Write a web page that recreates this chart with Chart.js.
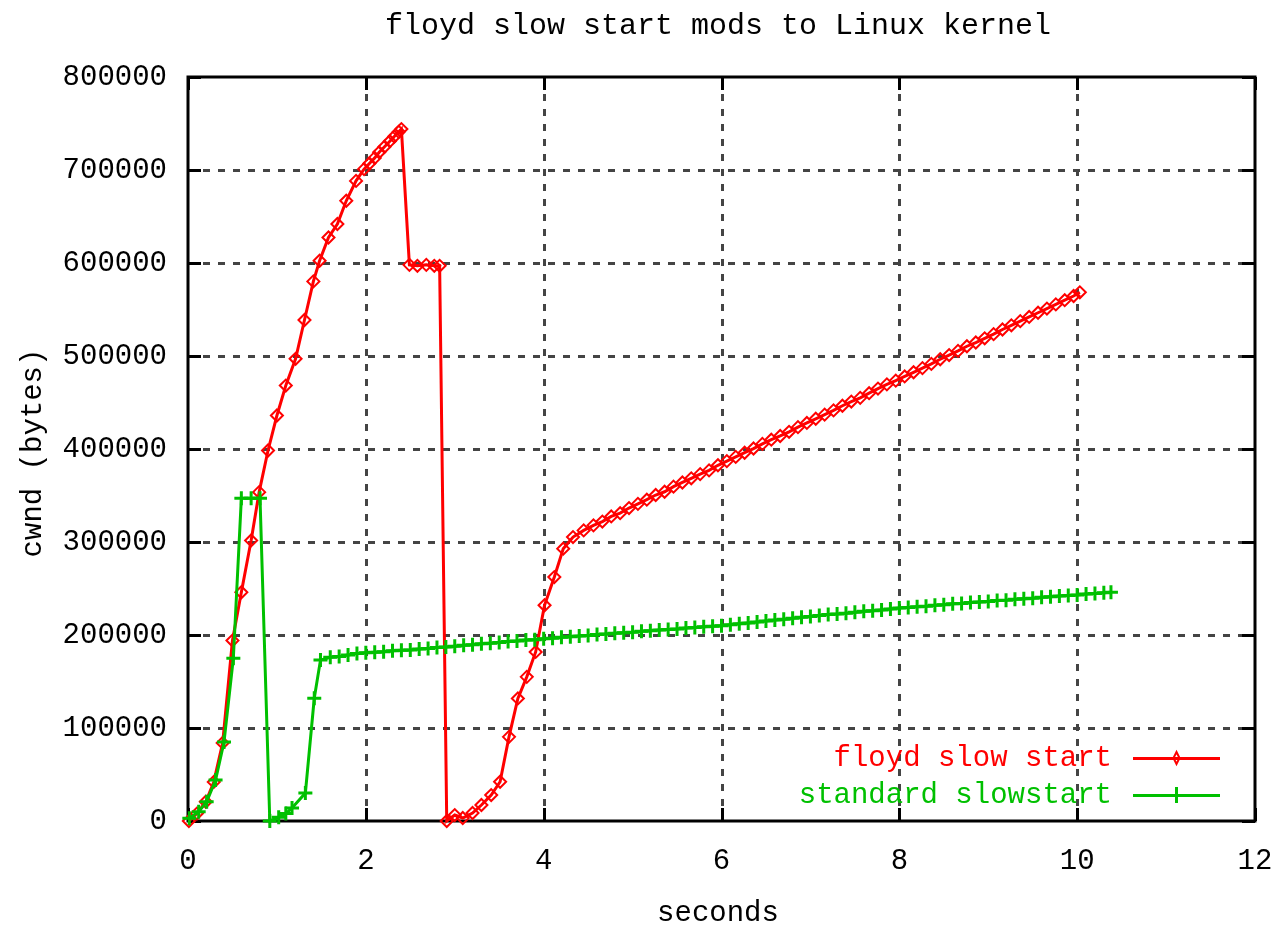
<!DOCTYPE html>
<html>
<head>
<meta charset="utf-8">
<title>floyd slow start mods to Linux kernel</title>
<script src="https://cdn.jsdelivr.net/npm/chart.js@4/dist/chart.umd.min.js"></script>
<style>
  html, body { margin: 0; padding: 0; background: #ffffff; }
  #wrap { width: 1273px; height: 929px; }
</style>
</head>
<body>
<div id="wrap"><canvas id="cwnd" width="1273" height="929"></canvas></div>
<script>
// congestion window traces (time in seconds, cwnd in bytes)
const floydSeconds = [
  0.01, 0.10, 0.20, 0.29, 0.39, 0.50, 0.60, 0.71, 0.80, 0.90,
  1.00, 1.10, 1.21, 1.31, 1.41, 1.48, 1.58, 1.68, 1.78, 1.89,
  1.98, 2.04, 2.10, 2.15, 2.21, 2.27, 2.32, 2.37, 2.40,
  2.49, 2.58, 2.68, 2.77, 2.83, 2.91,
  3.00, 3.09, 3.20, 3.30, 3.41, 3.51, 3.61, 3.71, 3.81, 3.91,
  4.01, 4.12, 4.22, 4.33, 4.45, 4.56,
  4.66, 4.76, 4.86, 4.96, 5.06, 5.16, 5.26, 5.36, 5.46, 5.56,
  5.66, 5.76, 5.86, 5.96, 6.06, 6.16, 6.26, 6.36, 6.46, 6.56,
  6.66, 6.76, 6.86, 6.96, 7.06, 7.16, 7.26, 7.36, 7.46, 7.56,
  7.66, 7.76, 7.86, 7.96, 8.06, 8.16, 8.26, 8.36, 8.46, 8.56,
  8.66, 8.76, 8.86, 8.96, 9.06, 9.16, 9.26, 9.36, 9.46, 9.56,
  9.66, 9.76, 9.86, 9.96, 10.03
];
const floydCwnd = [
  0, 8000, 20700, 42000, 84000, 194000, 246000, 301700, 353600, 398400,
  436000, 468200, 497000, 538700, 580200, 602400, 627400, 641900, 666900, 688300,
  700900, 707000, 713000, 719000, 725000, 731000, 736000, 741000, 744000,
  598000, 597000, 598000, 597000, 597000, 0,
  6400, 3200, 8600, 17200, 27900, 42200, 90500, 131800, 155000, 181800,
  232000, 262300, 292800, 305300, 312500, 317900,
  322000, 327500, 331000, 336500, 341000, 345500, 350500, 354000, 359500, 364000,
  368500, 373000, 377000, 382500, 387000, 391500, 396000, 400500, 405500, 410000,
  414000, 418500, 423500, 428000, 432500, 437000, 441500, 446500, 451000, 455000,
  460000, 465000, 469500, 473500, 478000, 482500, 487000, 491500, 496500, 501000,
  505500, 510500, 514500, 519000, 523500, 528500, 533000, 537500, 542000, 546500,
  551000, 555500, 560000, 564500, 568500
];

const standardSeconds = [
  0.015, 0.12, 0.21, 0.31, 0.405, 0.51, 0.60, 0.71, 0.81, 0.92,
  1.02, 1.10, 1.17, 1.32, 1.42, 1.49,
  1.6, 1.7, 1.8, 1.9, 2.0, 2.1, 2.2, 2.3, 2.4, 2.5,
  2.6, 2.7, 2.8, 2.9, 3.0, 3.1, 3.2, 3.3, 3.4, 3.5,
  3.6, 3.7, 3.8, 3.9, 4.0, 4.1, 4.2, 4.3, 4.4, 4.5,
  4.6, 4.7, 4.8, 4.9, 5.0, 5.1, 5.2, 5.3, 5.4, 5.5,
  5.6, 5.7, 5.8, 5.9, 6.0, 6.1, 6.2, 6.3, 6.4, 6.5,
  6.6, 6.7, 6.8, 6.9, 7.0, 7.1, 7.2, 7.3, 7.4, 7.5,
  7.6, 7.7, 7.8, 7.9, 8.0, 8.1, 8.2, 8.3, 8.4, 8.5,
  8.6, 8.7, 8.8, 8.9, 9.0, 9.1, 9.2, 9.3, 9.4, 9.5,
  9.6, 9.7, 9.8, 9.9, 10.0, 10.1, 10.2, 10.3, 10.38
];
const standardCwnd = [
  2900, 10000, 20700, 44000, 85000, 175000, 347000, 347000, 347000, 0,
  4000, 8000, 14000, 30000, 132000, 173000,
  176000, 177000, 178500, 180000, 181000, 181500, 182000, 183000, 183500, 184000,
  185000, 185500, 186500, 187000, 188000, 189000, 189500, 190500, 191000, 192000,
  193000, 193500, 194500, 195000, 196000, 196500, 197500, 198000, 199000, 199500,
  200500, 201000, 202000, 202500, 203000, 204000, 204500, 205500, 206000, 206500,
  207500, 208000, 209000, 209500, 210000, 211000, 212000, 213000, 214000, 215000,
  216000, 217000, 218000, 219000, 220000, 221000, 222000, 222500, 223500, 224500,
  225500, 226000, 227000, 228000, 229000, 229500, 230500, 231000, 232000, 232500,
  233500, 234000, 235000, 235500, 236000, 237000, 237500, 238500, 239000, 239500,
  240500, 241000, 242000, 242500, 243000, 244000, 244500, 245500, 246000
];

const seriesLabels = ['floyd slow start', 'standard slowstart'];
const chartTitle = 'floyd slow start mods to Linux kernel';
const xAxisTitle = 'seconds';
const yAxisTitle = 'cwnd (bytes)';

const FONT = '"Liberation Mono", "DejaVu Sans Mono", monospace';
const FONT_SIZE = 29;
const RED = '#ff0000';
const GREEN = '#00c000';

const toPoints = (xs, ys) => xs.map((x, i) => ({ x: x, y: ys[i] }));

// frame, dashed grid and inward tick marks, drawn underneath the traces
const framePlugin = {
  id: 'frame',
  beforeDatasetsDraw(chart) {
    const { ctx, chartArea: a, scales: { x, y } } = chart;
    ctx.save();
    ctx.strokeStyle = '#444444';
    ctx.lineWidth = 3;
    ctx.setLineDash([7, 8]);
    x.ticks.forEach(t => {
      if (t.value <= x.min || t.value >= x.max) return;
      const px = Math.round(x.getPixelForValue(t.value)) + 0.5;
      ctx.beginPath(); ctx.moveTo(px, a.bottom); ctx.lineTo(px, a.top); ctx.stroke();
    });
    y.ticks.forEach(t => {
      if (t.value <= y.min || t.value >= y.max) return;
      const py = Math.round(y.getPixelForValue(t.value)) + 0.5;
      ctx.beginPath(); ctx.moveTo(a.left, py); ctx.lineTo(a.right, py); ctx.stroke();
    });
    ctx.setLineDash([]);
    ctx.strokeStyle = '#000000';
    ctx.lineWidth = 3;
    const tl = 13;
    x.ticks.forEach(t => {
      const px = Math.round(x.getPixelForValue(t.value)) + 0.5;
      ctx.beginPath();
      ctx.moveTo(px, a.bottom); ctx.lineTo(px, a.bottom - tl);
      ctx.moveTo(px, a.top); ctx.lineTo(px, a.top + tl);
      ctx.stroke();
    });
    y.ticks.forEach(t => {
      const py = Math.round(y.getPixelForValue(t.value)) + 0.5;
      ctx.beginPath();
      ctx.moveTo(a.left, py); ctx.lineTo(a.left + tl, py);
      ctx.moveTo(a.right, py); ctx.lineTo(a.right - tl, py);
      ctx.stroke();
    });
    ctx.strokeRect(a.left, a.top, a.right - a.left, a.bottom - a.top);
    ctx.restore();
  }
};

// title, axis titles and the in-plot key
const textPlugin = {
  id: 'texts',
  afterDraw(chart) {
    const { ctx } = chart;
    ctx.save();
    ctx.font = '30px ' + FONT;
    ctx.fillStyle = '#000000';
    ctx.textAlign = 'center';
    ctx.textBaseline = 'middle';
    ctx.fillText(chartTitle, 718, 26);
    ctx.font = FONT_SIZE + 'px ' + FONT;
    ctx.fillText(xAxisTitle, 718, 913);
    ctx.save();
    ctx.translate(33, 453);
    ctx.rotate(-Math.PI / 2);
    ctx.fillText(yAxisTitle, 0, 0);
    ctx.restore();

    const rows = [758, 795];
    chart.data.datasets.forEach((ds, i) => {
      const yy = rows[i];
      ctx.fillStyle = ds.borderColor;
      ctx.textAlign = 'right';
      ctx.fillText(ds.label, 1112, yy);
      ctx.strokeStyle = ds.borderColor;
      ctx.lineWidth = 3;
      ctx.beginPath(); ctx.moveTo(1133, yy + 0.5); ctx.lineTo(1220, yy + 0.5); ctx.stroke();
      const mx = 1176.5;
      if (ds.pointStyle === 'cross') {
        ctx.beginPath(); ctx.moveTo(mx, yy - 8); ctx.lineTo(mx, yy + 8); ctx.stroke();
      } else {
        ctx.lineWidth = 2;
        ctx.beginPath();
        ctx.moveTo(mx, yy - 6); ctx.lineTo(mx + 3, yy); ctx.lineTo(mx, yy + 6); ctx.lineTo(mx - 3, yy); ctx.closePath();
        ctx.stroke();
      }
    });
    ctx.restore();
  }
};

new Chart(document.getElementById('cwnd'), {
  type: 'scatter',
  data: {
    datasets: [
      {
        label: seriesLabels[0],
        data: toPoints(floydSeconds, floydCwnd),
        showLine: true,
        borderColor: RED,
        borderWidth: 3,
        pointStyle: 'rectRot',
        pointRadius: 6,
        pointBorderWidth: 2,
        pointBackgroundColor: 'rgba(0,0,0,0)',
        pointBorderColor: RED,
        tension: 0,
        clip: false,
        order: 2
      },
      {
        label: seriesLabels[1],
        data: toPoints(standardSeconds, standardCwnd),
        showLine: true,
        borderColor: GREEN,
        borderWidth: 3,
        pointStyle: 'cross',
        pointRadius: 7,
        pointBorderWidth: 3,
        pointBorderColor: GREEN,
        tension: 0,
        clip: false,
        order: 1
      }
    ]
  },
  options: {
    responsive: false,
    animation: false,
    events: [],
    layout: { padding: { top: 77, right: 0, left: 0, bottom: 0 } },
    plugins: {
      legend: { display: false },
      title: { display: false },
      tooltip: { enabled: false }
    },
    scales: {
      x: {
        type: 'linear',
        min: 0, max: 12,
        grid: { display: false, drawTicks: false },
        border: { display: false },
        ticks: {
          stepSize: 2,
          padding: 23,
          color: '#000000',
          font: { family: FONT, size: FONT_SIZE },
          maxRotation: 0
        },
        afterFit(scale) {
          scale.height = 108;
          scale.paddingLeft = 0;
          scale.paddingRight = 18;
        }
      },
      y: {
        type: 'linear',
        min: 0, max: 800000,
        grid: { display: false, drawTicks: false },
        border: { display: false },
        ticks: {
          stepSize: 100000,
          padding: 21,
          color: '#000000',
          font: { family: FONT, size: FONT_SIZE },
          callback: v => String(v)
        },
        afterFit(scale) {
          scale.width = 188;
          scale.paddingTop = 0;
          scale.paddingBottom = 0;
        }
      }
    }
  },
  plugins: [framePlugin, textPlugin]
});
</script>
</body>
</html>
